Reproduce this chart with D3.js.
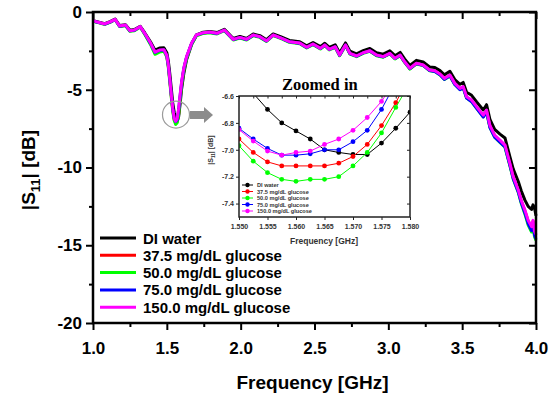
<!DOCTYPE html>
<html>
<head>
<meta charset="utf-8">
<script src="https://cdn.jsdelivr.net/npm/d3@7"></script>
<style>
  body { margin: 0; background: #fff; }
  svg { display: block; font-family: "Liberation Sans", Arial, sans-serif; font-weight: bold; }
</style>
</head>
<body>
<div id="chart"></div>
<script>
// main sweep (GHz / dB)
var freqGHz = [1.00,1.02,1.047,1.08,1.115,1.15,1.18,1.22,1.25,1.28,1.32,1.35,1.39,1.42,1.45,1.48,1.50,1.51,1.52,1.53,1.54,1.55,1.56,1.57,1.58,1.59,1.60,1.615,1.634,1.668,1.70,1.747,1.79,1.84,1.89,1.95,1.995,2.04,2.085,2.13,2.175,2.22,2.27,2.33,2.40,2.447,2.49,2.54,2.57,2.60,2.64,2.67,2.71,2.74,2.785,2.83,2.875,2.92,2.965,3.01,3.045,3.08,3.11,3.146,3.19,3.236,3.28,3.315,3.35,3.38,3.417,3.45,3.485,3.507,3.53,3.564,3.598,3.643,3.665,3.688,3.72,3.756,3.79,3.823,3.846,3.88,3.90,3.925,3.947,3.97,3.98,3.99,4.00];

var diWater = [-0.55,-0.60,-0.67,-0.75,-0.62,-0.45,-0.87,-0.82,-1.17,-1.13,
  -0.92,-1.33,-1.93,-2.45,-2.32,-2.30,-2.62,-3.15,-3.95,-4.90,
  -5.85,-6.45,-6.86,-7.03,-6.72,-5.90,-4.95,-3.95,-3.05,-2.08,
  -1.48,-1.30,-1.25,-1.32,-1.11,-1.70,-1.57,-1.70,-1.42,-1.52,
  -1.78,-1.41,-1.58,-1.83,-1.91,-2.17,-1.96,-2.23,-2.01,-2.28,
  -2.11,-2.64,-1.99,-2.52,-2.69,-2.48,-2.34,-2.62,-2.71,-2.50,
  -2.81,-2.60,-3.02,-3.44,-3.11,-3.22,-3.53,-3.57,-3.77,-4.04,
  -3.81,-4.34,-4.65,-4.53,-5.16,-5.36,-5.78,-6.30,-5.96,-6.90,
  -7.55,-7.85,-8.10,-9.30,-10.10,-10.90,-11.50,-12.10,-12.50,-12.70,
  -12.40,-12.60,-13.10];

var gluc375 = [-0.57,-0.63,-0.70,-0.78,-0.65,-0.48,-0.91,-0.85,-1.21,-1.17,
  -0.95,-1.39,-2.03,-2.62,-2.49,-2.45,-2.84,-3.48,-4.40,-5.40,
  -6.30,-6.92,-7.12,-7.05,-6.55,-5.55,-4.65,-3.70,-2.92,-2.03,
  -1.50,-1.35,-1.30,-1.38,-1.17,-1.77,-1.64,-1.77,-1.49,-1.60,
  -1.86,-1.49,-1.67,-1.92,-2.01,-2.28,-2.07,-2.35,-2.13,-2.41,
  -2.24,-2.78,-2.13,-2.67,-2.84,-2.63,-2.50,-2.78,-2.88,-2.67,
  -2.99,-2.78,-3.21,-3.64,-3.31,-3.42,-3.75,-3.80,-4.01,-4.30,
  -4.07,-4.62,-4.94,-4.83,-5.48,-5.70,-6.13,-6.68,-6.36,-7.34,
  -7.96,-8.28,-8.60,-9.78,-10.65,-11.50,-12.15,-12.80,-13.45,-13.85,
  -13.45,-14.15,-14.35];

var gluc500 = [-0.58,-0.64,-0.71,-0.80,-0.67,-0.50,-0.93,-0.88,-1.24,-1.20,
  -0.98,-1.43,-2.10,-2.72,-2.58,-2.52,-2.90,-3.55,-4.48,-5.48,
  -6.38,-6.97,-7.23,-7.12,-6.60,-5.62,-4.72,-3.76,-2.97,-2.08,
  -1.54,-1.38,-1.33,-1.41,-1.20,-1.80,-1.67,-1.80,-1.52,-1.63,
  -1.89,-1.52,-1.70,-1.95,-2.04,-2.31,-2.10,-2.38,-2.16,-2.44,
  -2.27,-2.81,-2.16,-2.70,-2.87,-2.66,-2.53,-2.81,-2.91,-2.70,
  -3.02,-2.81,-3.24,-3.67,-3.34,-3.45,-3.78,-3.83,-4.05,-4.34,
  -4.11,-4.66,-4.98,-4.88,-5.53,-5.76,-6.19,-6.74,-6.42,-7.42,
  -8.05,-8.38,-8.70,-9.88,-10.75,-11.60,-12.30,-13.00,-13.70,-14.15,
  -13.75,-14.45,-14.70];

var gluc750 = [-0.57,-0.63,-0.70,-0.78,-0.65,-0.48,-0.91,-0.85,-1.21,-1.17,
  -0.95,-1.38,-2.02,-2.60,-2.47,-2.43,-2.81,-3.42,-4.32,-5.30,
  -6.20,-6.84,-7.04,-6.94,-6.30,-5.40,-4.55,-3.63,-2.89,-2.01,
  -1.49,-1.34,-1.30,-1.38,-1.17,-1.77,-1.64,-1.77,-1.49,-1.60,
  -1.86,-1.49,-1.67,-1.92,-2.01,-2.28,-2.07,-2.35,-2.13,-2.41,
  -2.24,-2.78,-2.13,-2.67,-2.84,-2.63,-2.50,-2.78,-2.88,-2.67,
  -2.99,-2.78,-3.21,-3.64,-3.32,-3.43,-3.76,-3.82,-4.04,-4.33,
  -4.10,-4.66,-4.99,-4.88,-5.54,-5.77,-6.20,-6.75,-6.43,-7.43,
  -8.05,-8.37,-8.68,-9.85,-10.72,-11.57,-12.25,-12.92,-13.60,-14.05,
  -13.65,-14.35,-14.60];

var gluc1500 = [-0.56,-0.62,-0.69,-0.77,-0.64,-0.47,-0.90,-0.84,-1.20,-1.16,
  -0.94,-1.37,-2.00,-2.58,-2.45,-2.42,-2.80,-3.40,-4.30,-5.30,
  -6.20,-6.85,-7.02,-6.86,-6.20,-5.30,-4.50,-3.60,-2.87,-2.00,
  -1.48,-1.33,-1.29,-1.37,-1.16,-1.76,-1.63,-1.76,-1.48,-1.59,
  -1.85,-1.48,-1.66,-1.91,-2.00,-2.27,-2.06,-2.34,-2.12,-2.40,
  -2.23,-2.77,-2.12,-2.66,-2.83,-2.62,-2.49,-2.77,-2.87,-2.66,
  -2.98,-2.77,-3.20,-3.62,-3.30,-3.41,-3.73,-3.78,-3.99,-4.27,
  -4.05,-4.59,-4.91,-4.80,-5.45,-5.66,-6.09,-6.63,-6.31,-7.30,
  -7.92,-8.24,-8.56,-9.74,-10.60,-11.45,-12.10,-12.74,-13.40,-13.80,
  -13.40,-14.10,-14.30];

// zoomed in inset (1.550 - 1.580 GHz)
var zoomFreq = [1.550,1.5525,1.555,1.5575,1.560,1.5625,1.565,1.5675,1.570,1.5725,1.575,1.5775,1.580];
var zoomDI   = [-6.45,-6.58,-6.70,-6.80,-6.86,-6.92,-7.00,-7.02,-7.035,-7.035,-6.95,-6.84,-6.72];
var zoom375  = [-6.92,-7.02,-7.09,-7.12,-7.12,-7.12,-7.12,-7.10,-7.05,-6.96,-6.82,-6.65,-6.45];
var zoom500  = [-6.97,-7.085,-7.17,-7.22,-7.235,-7.22,-7.22,-7.20,-7.12,-7.02,-6.875,-6.685,-6.50];
var zoom750  = [-6.84,-6.92,-6.99,-7.04,-7.04,-7.03,-7.00,-7.00,-6.94,-6.855,-6.70,-6.50,-6.30];
var zoom1500 = [-6.85,-6.935,-7.01,-7.04,-7.02,-7.01,-6.96,-6.92,-6.855,-6.76,-6.64,-6.48,-6.30];

var seriesNames = ["DI water", "37.5 mg/dL glucose", "50.0 mg/dL glucose", "75.0 mg/dL glucose", "150.0 mg/dL glucose"];
var seriesColors = ["#000000", "#ff0000", "#00ff00", "#0000ff", "#ff00ff"];
var mainSeries = [diWater, gluc375, gluc500, gluc750, gluc1500];
var zoomSeries = [zoomDI, zoom375, zoom500, zoom750, zoom1500];

var xTicks = [1.0, 1.5, 2.0, 2.5, 3.0, 3.5, 4.0];
var yTicks = [0, -5, -10, -15, -20];
var zoomXTicks = [1.550, 1.555, 1.560, 1.565, 1.570, 1.575, 1.580];
var zoomYTicks = [-6.6, -6.8, -7.0, -7.2, -7.4];

var W = 559, H = 396;

// plain hyphen instead of the unicode minus d3 uses
function fmt(spec) {
  var f = d3.format(spec);
  return function(d) { return f(d).replace("\u2212", "-"); };
}

var svg = d3.select("#chart").append("svg")
  .attr("width", W)
  .attr("height", H);

//main scales
var x = d3.scaleLinear().domain([1, 4]).range([93, 536]);
var y = d3.scaleLinear().domain([-20, 0]).range([323, 12]);

//minor ticks
var g = svg.append("g");
g.append("g")
  .attr("transform", "translate(0," + y(-20) + ")")
  .call(d3.axisBottom(x).tickValues([1.25, 1.75, 2.25, 2.75, 3.25, 3.75]).tickSize(4).tickFormat(""));
g.append("g")
  .attr("transform", "translate(0," + y(0) + ")")
  .call(d3.axisBottom(x).tickValues([1.25, 1.75, 2.25, 2.75, 3.25, 3.75]).tickSize(4).tickFormat(""));
g.append("g")
  .attr("transform", "translate(" + x(1) + ",0)")
  .call(d3.axisLeft(y).tickValues([-2.5, -7.5, -12.5, -17.5]).tickSize(4).tickFormat(""));
g.append("g")
  .attr("transform", "translate(" + x(4) + ",0)")
  .call(d3.axisRight(y).tickValues([-2.5, -7.5, -12.5, -17.5]).tickSize(-4).tickFormat(""));

//major ticks with labels
g.append("g")
  .attr("class", "xaxis")
  .attr("transform", "translate(0," + y(-20) + ")")
  .call(d3.axisBottom(x).tickValues(xTicks).tickSize(7).tickPadding(12).tickFormat(fmt(".1f")));
g.append("g")
  .attr("transform", "translate(0," + y(0) + ")")
  .call(d3.axisBottom(x).tickValues(xTicks).tickSize(7).tickFormat(""));
g.append("g")
  .attr("class", "yaxis")
  .attr("transform", "translate(" + x(1) + ",0)")
  .call(d3.axisLeft(y).tickValues(yTicks).tickSize(7).tickPadding(4).tickFormat(fmt("d")));
g.append("g")
  .attr("transform", "translate(" + x(4) + ",0)")
  .call(d3.axisRight(y).tickValues(yTicks).tickSize(-7).tickFormat(""));

g.selectAll(".domain").remove();
g.selectAll(".tick line").attr("stroke", "#000").attr("stroke-width", 2);
g.selectAll(".xaxis text, .yaxis text")
  .attr("fill", "#000")
  .style("font-size", "17px")
  .style("font-family", "'Liberation Sans', Arial, sans-serif")
  .style("font-weight", "bold");

//curves
var line = d3.line()
  .x(function(d) { return x(d[0]); })
  .y(function(d) { return y(d[1]); });

mainSeries.forEach(function(vals, i) {
  svg.append("path")
    .datum(freqGHz.map(function(f, j) { return [f, vals[j]]; }))
    .attr("fill", "none")
    .attr("stroke", seriesColors[i])
    .attr("stroke-width", 3)
    .attr("stroke-linejoin", "round")
    .attr("d", line);
});

//frame
svg.append("rect")
  .attr("x", x(1)).attr("y", y(0))
  .attr("width", x(4) - x(1)).attr("height", y(-20) - y(0))
  .attr("fill", "none").attr("stroke", "#000").attr("stroke-width", 2.5);

//axis titles
svg.append("text")
  .attr("x", (x(1) + x(4)) / 2 - 2)
  .attr("y", 389)
  .attr("text-anchor", "middle")
  .style("font-size", "19px")
  .text("Frequency [GHz]");

var yt = svg.append("text")
  .attr("transform", "translate(35,170) rotate(-90)")
  .attr("text-anchor", "middle")
  .style("font-size", "19px");
yt.append("tspan").text("|S");
yt.append("tspan").attr("dy", 5).style("font-size", "13px").text("11");
yt.append("tspan").attr("dy", -5).text("| [dB]");

//legend
var legend = svg.selectAll(".legend")
  .data(seriesNames)
  .enter()
    .append("g")
      .attr("class", "legend")
      .attr("transform", function(d, i) { return "translate(100," + (238 + i * 17.3) + ")"; });

legend.append("line")
  .attr("x1", 0).attr("x2", 36)
  .attr("stroke", function(d, i) { return seriesColors[i]; })
  .attr("stroke-width", 3);

legend.append("text")
  .attr("x", 43)
  .attr("y", 5.5)
  .style("font-size", "15px")
  .text(function(d) { return d; });

//circle around the dip + arrow
svg.append("circle")
  .attr("cx", x(1.562)).attr("cy", y(-6.6))
  .attr("r", 13.5)
  .attr("fill", "none")
  .attr("stroke", "#9a9a9a")
  .attr("stroke-width", 1.2);

svg.append("path")
  .attr("d", "M190,111 L204,111 L204,107 L213,115 L204,123 L204,119 L190,119 Z")
  .attr("fill", "#8c8c8c");

// ---- inset ----
var ix = d3.scaleLinear().domain([1.55, 1.58]).range([239, 410]);
var iy = d3.scaleLinear().domain([-7.5, -6.6]).range([217, 96]);

svg.append("text")
  .attr("x", 282)
  .attr("y", 90)
  .style("font-family", "'Liberation Serif', 'Times New Roman', serif")
  .style("font-size", "16.5px")
  .text("Zoomed  in");

svg.append("rect")
  .attr("x", ix(1.55)).attr("y", iy(-6.6))
  .attr("width", ix(1.58) - ix(1.55)).attr("height", iy(-7.5) - iy(-6.6))
  .attr("fill", "#fff");

var ig = svg.append("g");
ig.append("g")
  .attr("class", "ixaxis")
  .attr("transform", "translate(0," + iy(-7.5) + ")")
  .call(d3.axisBottom(ix).tickValues(zoomXTicks).tickSize(3).tickPadding(4).tickFormat(fmt(".3f")));
ig.append("g")
  .attr("transform", "translate(0," + iy(-6.6) + ")")
  .call(d3.axisBottom(ix).tickValues(zoomXTicks.concat([1.5525, 1.5575, 1.5625, 1.5675, 1.5725, 1.5775])).tickSize(2.5).tickFormat(""));
ig.append("g")
  .attr("class", "iyaxis")
  .attr("transform", "translate(" + ix(1.55) + ",0)")
  .call(d3.axisLeft(iy).tickValues(zoomYTicks).tickSize(3).tickPadding(2).tickFormat(fmt(".1f")));
ig.append("g")
  .attr("transform", "translate(" + ix(1.58) + ",0)")
  .call(d3.axisRight(iy).tickValues(zoomYTicks).tickSize(-3).tickFormat(""));
ig.selectAll(".domain").remove();
ig.selectAll(".tick line").attr("stroke", "#222").attr("stroke-width", 1);
ig.selectAll(".ixaxis text, .iyaxis text")
  .attr("fill", "#333")
  .style("font-size", "7px")
  .style("font-family", "'Liberation Sans', Arial, sans-serif")
  .style("font-weight", "bold");

svg.append("clipPath")
  .attr("id", "iclip")
  .append("rect")
    .attr("x", ix(1.55)).attr("y", iy(-6.6))
    .attr("width", ix(1.58) - ix(1.55)).attr("height", iy(-7.5) - iy(-6.6));

var iline = d3.line()
  .x(function(d) { return ix(d[0]); })
  .y(function(d) { return iy(d[1]); });

var iplot = svg.append("g").attr("clip-path", "url(#iclip)");
zoomSeries.forEach(function(vals, i) {
  var pts = zoomFreq.map(function(f, j) { return [f, vals[j]]; });
  iplot.append("path")
    .datum(pts)
    .attr("fill", "none")
    .attr("stroke", seriesColors[i])
    .attr("stroke-width", 1)
    .attr("d", iline);
  iplot.selectAll(".m" + i)
    .data(pts)
    .enter()
      .append("circle")
        .attr("class", "m" + i)
        .attr("cx", function(d) { return ix(d[0]); })
        .attr("cy", function(d) { return iy(d[1]); })
        .attr("r", 2.4)
        .attr("fill", seriesColors[i]);
});

svg.append("rect")
  .attr("x", ix(1.55)).attr("y", iy(-6.6))
  .attr("width", ix(1.58) - ix(1.55)).attr("height", iy(-7.5) - iy(-6.6))
  .attr("fill", "none").attr("stroke", "#222").attr("stroke-width", 1.5);

svg.append("text")
  .attr("x", 324)
  .attr("y", 244)
  .attr("text-anchor", "middle")
  .attr("fill", "#333")
  .style("font-size", "8.5px")
  .text("Frequency [GHz]");

var iyt = svg.append("text")
  .attr("transform", "translate(213,150) rotate(-90)")
  .attr("text-anchor", "middle")
  .attr("fill", "#333")
  .style("font-size", "7px");
iyt.append("tspan").text("|S");
iyt.append("tspan").attr("dy", 1.5).style("font-size", "4.5px").text("11");
iyt.append("tspan").attr("dy", -1.5).text("| [dB]");

var ilegend = svg.selectAll(".ilegend")
  .data(seriesNames)
  .enter()
    .append("g")
      .attr("class", "ilegend")
      .attr("transform", function(d, i) { return "translate(242," + (185 + i * 6.5) + ")"; });

ilegend.append("line")
  .attr("x1", 0).attr("x2", 11)
  .attr("stroke", function(d, i) { return seriesColors[i]; })
  .attr("stroke-width", 1);
ilegend.append("circle")
  .attr("cx", 5.5)
  .attr("r", 2.2)
  .attr("fill", function(d, i) { return seriesColors[i]; });
ilegend.append("text")
  .attr("x", 15)
  .attr("y", 2)
  .attr("fill", "#333")
  .style("font-size", "5.6px")
  .text(function(d) { return d; });
</script>
</body>
</html>
